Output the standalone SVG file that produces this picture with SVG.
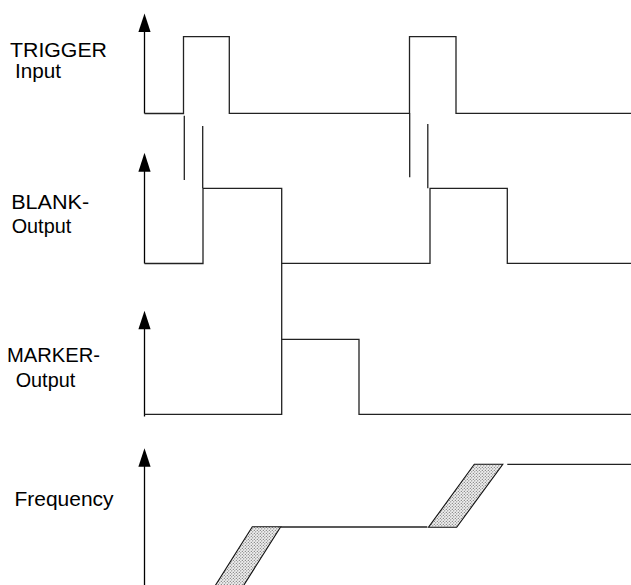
<svg xmlns="http://www.w3.org/2000/svg" width="631" height="585" viewBox="0 0 631 585">
  <defs>
    <style>
      .lbl { font-family: "Liberation Sans", Arial, sans-serif; font-size: 20px; fill: #000; }
      .sig { fill: none; stroke: #222; stroke-width: 1.3; stroke-linejoin: miter; }
      .axis { fill: none; stroke: #000; stroke-width: 1.3; }
      .head { fill: #000; stroke: none; }
      .band { fill: url(#dots); stroke: #111; stroke-width: 1.1; }
    </style>
    <pattern id="dots" width="3" height="3" patternUnits="userSpaceOnUse">
      <rect width="3" height="3" fill="#f0f0f0"/>
      <circle cx="0.8" cy="0.8" r="0.6" fill="#666"/>
      <circle cx="2.3" cy="2.3" r="0.6" fill="#666"/>
    </pattern>
  </defs>
  <rect width="631" height="585" fill="#fff"/>

  <g id="labels">
    <text class="lbl" x="10" y="57.3" textLength="97" lengthAdjust="spacingAndGlyphs">TRIGGER</text>
    <text class="lbl" x="15" y="77.7" textLength="46" lengthAdjust="spacingAndGlyphs">Input</text>
    <text class="lbl" x="11.2" y="209.3" textLength="78" lengthAdjust="spacingAndGlyphs">BLANK-</text>
    <text class="lbl" x="11.7" y="233.3" textLength="59.5" lengthAdjust="spacingAndGlyphs">Output</text>
    <text class="lbl" x="7" y="362" textLength="93" lengthAdjust="spacingAndGlyphs">MARKER-</text>
    <text class="lbl" x="15.7" y="386.7" textLength="59.5" lengthAdjust="spacingAndGlyphs">Output</text>
    <text class="lbl" x="14.5" y="505.5" textLength="99" lengthAdjust="spacingAndGlyphs">Frequency</text>
  </g>

  <g id="axes">
    <line class="axis" x1="144.5" y1="28" x2="144.5" y2="113.5"/>
    <polygon class="head" points="144.5,13.5 150.6,32 138.4,32"/>
    <line class="axis" x1="144.5" y1="168" x2="144.5" y2="263.5"/>
    <polygon class="head" points="144.5,152.7 150.6,171.7 138.4,171.7"/>
    <line class="axis" x1="144.5" y1="325" x2="144.5" y2="416.5"/>
    <polygon class="head" points="144.5,310.7 150.6,329.3 138.4,329.3"/>
    <line class="axis" x1="144.5" y1="462" x2="144.5" y2="585"/>
    <polygon class="head" points="144.5,448.3 150.6,466.7 138.4,466.7"/>
  </g>

  <g id="trigger">
    <polyline class="sig" points="144.5,113.5 183.5,113.5 183.5,36.7 229.3,36.7 229.3,113.3 409.5,113.3 409.5,36.7 456,36.7 456,113.3 631,113.3"/>
  </g>

  <g id="blank">
    <polyline class="sig" points="144.5,263.5 203,263.5 203,188.3 281.7,188.3 281.7,263.3 430,263.3 430,188.3 507.3,188.3 507.3,263.3 631,263.3"/>
  </g>

  <g id="marker">
    <polyline class="sig" points="144.5,414.3 281.7,414.3 281.7,339.3 359,339.3 359,414.3 631,414.3"/>
  </g>

  <g id="frequency">
    <line class="sig" x1="280.7" y1="527" x2="427.3" y2="527"/>
    <line class="sig" x1="507.3" y1="464.3" x2="631" y2="464.3"/>
    <polygon class="band" points="252.3,526.8 280.7,526.8 243.3,586 215,586"/>
    <polygon class="band" points="474.3,464.2 502.8,464.2 456.7,527.3 428.5,527.3"/>
  </g>

  <g id="connectors">
    <line class="sig" x1="184.3" y1="115.7" x2="184.3" y2="180"/>
    <line class="sig" x1="202.7" y1="126" x2="202.7" y2="188.3"/>
    <line class="sig" x1="281.7" y1="263.3" x2="281.7" y2="339.3"/>
    <line class="sig" x1="409.7" y1="113.3" x2="409.7" y2="177.3"/>
    <line class="sig" x1="427.8" y1="124" x2="427.8" y2="188.3"/>
  </g>
</svg>
